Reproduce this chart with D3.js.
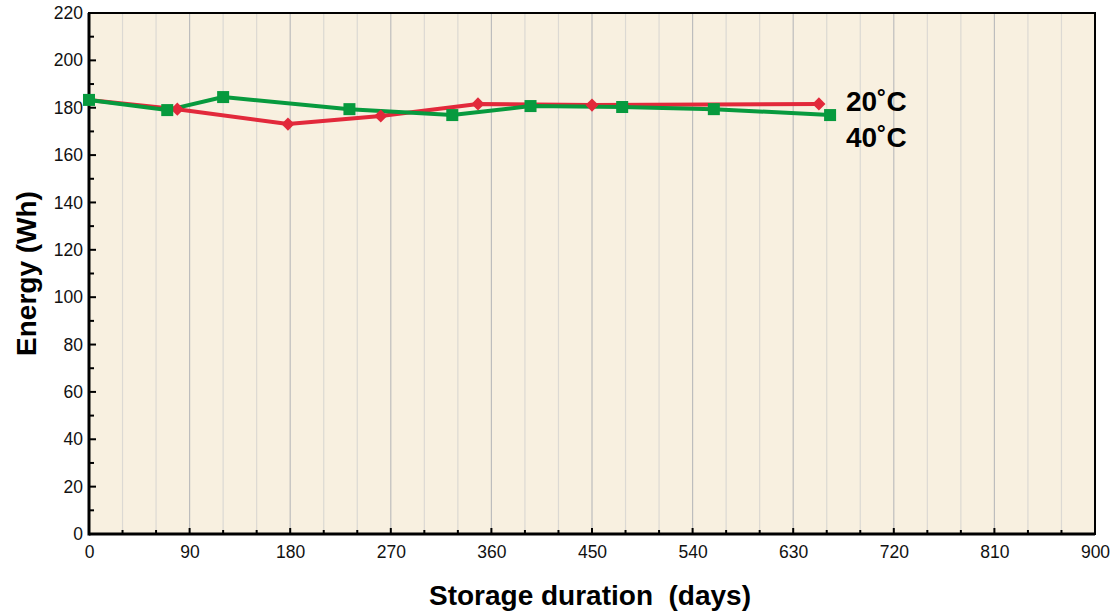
<!DOCTYPE html>
<html lang="en">
<head>
<meta charset="utf-8" />
<title>Energy vs storage duration</title>
<script src="https://cdn.jsdelivr.net/npm/d3@7"></script>
<style>
body { margin: 0; background: white; }
text { font-family: "Liberation Sans", Arial, sans-serif; }
</style>
</head>
<body>
<script>
// data
var days20 = [0, 79, 178, 261, 348, 450, 653];
var energy20 = [183.3, 179.4, 173.1, 176.5, 181.6, 181.1, 181.6];
var days40 = [0, 70, 120, 233, 325, 395, 477, 559, 663];
var energy40 = [183.3, 179.0, 184.5, 179.4, 176.9, 180.7, 180.3, 179.4, 176.9];
var xTicks = [0, 90, 180, 270, 360, 450, 540, 630, 720, 810, 900];
var yTicks = [0, 20, 40, 60, 80, 100, 120, 140, 160, 180, 200, 220];
var seriesNames = ["20\u02DAC", "40\u02DAC"];

var w = 1115, h = 615;
var pad = { left: 89, right: 20, top: 13, bottom: 81 };

var svg = d3.select("body").append("svg")
  .attr("width", w).attr("height", h);

var x = d3.scaleLinear().domain([0, 900]).range([pad.left, w - pad.right]);
var y = d3.scaleLinear().domain([0, 220]).range([h - pad.bottom, pad.top]);

// plot background
svg.append("rect")
  .attr("x", x(0)).attr("y", y(220))
  .attr("width", x(900) - x(0)).attr("height", y(0) - y(220))
  .attr("fill", "#f8f0e0");

// vertical grid every 30 days, darker at 90s
svg.append("g").selectAll("line")
  .data(d3.range(30, 900, 30))
  .enter().append("line")
  .attr("x1", function(d) { return x(d); })
  .attr("x2", function(d) { return x(d); })
  .attr("y1", y(0)).attr("y2", y(220))
  .attr("stroke", function(d) { return d % 90 === 0 ? "#bdbdbd" : "#dcd9d3"; })
  .attr("stroke-width", 1.2);

// axes, labels only (ticks drawn inward below)
var xAxis = d3.axisBottom(x).tickValues(xTicks).tickSize(0).tickPadding(12);
var gx = svg.append("g").attr("transform", "translate(0," + y(0) + ")").call(xAxis);
gx.select(".domain").remove();
gx.selectAll("text").attr("font-size", 17.5).attr("fill", "#111")
  .style("font-family", "'Liberation Sans', Arial, sans-serif");

var yAxis = d3.axisLeft(y).tickValues(yTicks).tickSize(0).tickPadding(6);
var gy = svg.append("g").attr("transform", "translate(" + x(0) + ",0)").call(yAxis);
gy.select(".domain").remove();
gy.selectAll("text").attr("font-size", 17.5).attr("fill", "#111")
  .style("font-family", "'Liberation Sans', Arial, sans-serif");

// inward tick marks
var ticks = svg.append("g").attr("stroke", "#000").attr("stroke-width", 2);
ticks.selectAll("line.yt")
  .data(d3.range(0, 221, 10))
  .enter().append("line")
  .attr("x1", x(0))
  .attr("x2", function(d) { return x(0) + (d % 20 === 0 ? 7 : 5); })
  .attr("y1", function(d) { return y(d); })
  .attr("y2", function(d) { return y(d); });
ticks.selectAll("line.xt")
  .data(d3.range(0, 901, 30))
  .enter().append("line")
  .attr("x1", function(d) { return x(d); })
  .attr("x2", function(d) { return x(d); })
  .attr("y1", y(0))
  .attr("y2", function(d) { return y(0) - (d % 90 === 0 ? 6 : 4); });

// frame
svg.append("rect")
  .attr("x", x(0)).attr("y", y(220))
  .attr("width", x(900) - x(0)).attr("height", y(0) - y(220))
  .attr("fill", "none").attr("stroke", "#000").attr("stroke-width", 2);
svg.append("line")
  .attr("x1", x(0)).attr("x2", x(900)).attr("y1", y(0)).attr("y2", y(0))
  .attr("stroke", "#000").attr("stroke-width", 3);
svg.append("line")
  .attr("x1", x(0)).attr("x2", x(0)).attr("y1", y(0) + 1.5).attr("y2", y(220))
  .attr("stroke", "#000").attr("stroke-width", 3);

var line = d3.line()
  .x(function(d) { return x(d[0]); })
  .y(function(d) { return y(d[1]); });

var red = "#e2293b", green = "#079a3e";
var pts20 = d3.zip(days20, energy20);
var pts40 = d3.zip(days40, energy40);

svg.append("path").datum(pts20)
  .attr("d", line).attr("fill", "none")
  .attr("stroke", red).attr("stroke-width", 4).attr("stroke-linejoin", "round");
svg.append("path").datum(pts40)
  .attr("d", line).attr("fill", "none")
  .attr("stroke", green).attr("stroke-width", 4).attr("stroke-linejoin", "round");

svg.append("g").selectAll("path")
  .data(pts20.slice(1))
  .enter().append("path")
  .attr("d", d3.symbol().type(d3.symbolDiamond2).size(110))
  .attr("transform", function(d) { return "translate(" + x(d[0]) + "," + y(d[1]) + ")"; })
  .attr("fill", red);
svg.append("g").selectAll("rect")
  .data(pts40)
  .enter().append("rect")
  .attr("x", function(d) { return x(d[0]) - 6; })
  .attr("y", function(d) { return y(d[1]) - 6; })
  .attr("width", 12).attr("height", 12)
  .attr("fill", green);

// series labels
svg.append("g").selectAll("text")
  .data(seriesNames)
  .enter().append("text")
  .attr("x", 846)
  .attr("y", function(d, i) { return 111 + i * 36; })
  .attr("font-size", 28).attr("font-weight", "bold")
  .text(function(d) { return d; });

// axis titles
svg.append("text")
  .attr("x", (x(0) + x(900)) / 2 - 2).attr("y", 605)
  .attr("text-anchor", "middle")
  .attr("font-size", 28).attr("font-weight", "bold")
  .attr("xml:space", "preserve")
  .text("Storage duration  (days)");
svg.append("text")
  .attr("transform", "translate(36," + y(110) + ") rotate(-90)")
  .attr("text-anchor", "middle")
  .attr("font-size", 28).attr("font-weight", "bold")
  .text("Energy (Wh)");
</script>
</body>
</html>
